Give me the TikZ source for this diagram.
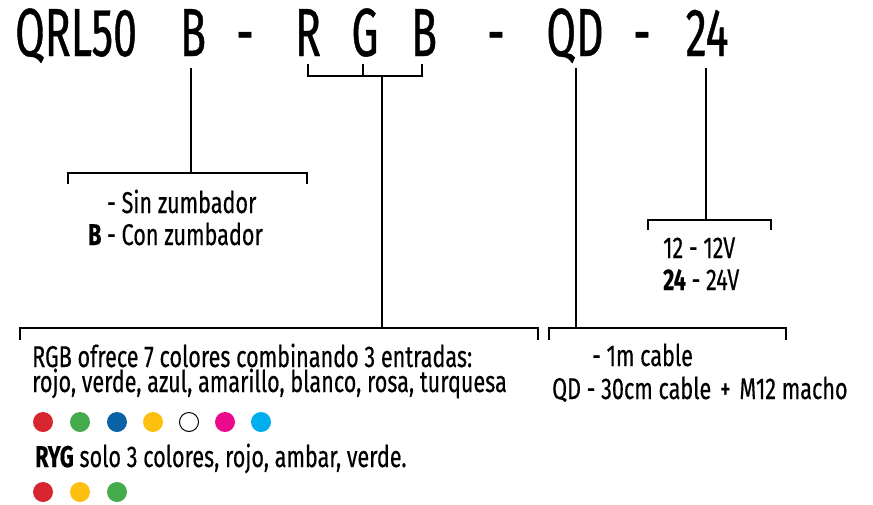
\documentclass[tikz,border=0pt]{standalone}
\usepackage{fontspec}
\setmainfont{Fira Sans}[FakeStretch=0.72, FakeBold=0.4]
\newfontfamily\codefont{Fira Sans}[FakeStretch=0.63, FakeBold=0.6]
\usetikzlibrary{positioning}

\definecolor{ledred}{HTML}{D7262F}
\definecolor{ledgreen}{HTML}{44AC4C}
\definecolor{ledblue}{HTML}{0A62A6}
\definecolor{ledyellow}{HTML}{FEC010}
\definecolor{ledpink}{HTML}{EB0A8C}
\definecolor{ledcyan}{HTML}{00AEEF}

\tikzset{
  code/.style={font=\codefont\fontsize{68}{68}\selectfont, anchor=base, inner sep=0pt},
  txt/.style={font=\fontsize{30}{32}\selectfont, anchor=base west, inner sep=0pt, align=left},
  wire/.style={line width=1.3pt},
  led/.style={circle, minimum size=20pt, inner sep=0pt},
}

\begin{document}
\begin{tikzpicture}[x=1pt, y=-1pt]
        \useasboundingbox (0,0) rectangle (873,504);

        % Code
        \node (qrl) [code, anchor=base west] at (15,56) {QRL50};
        \node (zb) [code] at (193,56) {B};
        \node (d1) [code] at (245,56) {-};
        \node (r) [code] at (308,56) {R};
        \node (g) [code] at (365,56) {G};
        \node (b) [code] at (424,56) {B};
        \node (d2) [code] at (496,56) {-};
        \node (qd) [code] at (575,56) {QD};
        \node (d3) [code] at (642,56) {-};
        \node (volt) [code] at (707,56) {24};

        % Bracket points
        \coordinate (zbtop) at (191,68);
        \coordinate (zbmid) at (191,173);
        \coordinate (zbl) at (68,184);
        \coordinate (zbr) at (307,184);
        \coordinate (rtop) at (308,64);
        \coordinate (gtop) at (363,64);
        \coordinate (btop) at (422,64);
        \coordinate (rgbmid) at (382,76);
        \coordinate (rgbbot) at (382,328);
        \coordinate (rgbl) at (20,340);
        \coordinate (rgbr) at (538,340);
        \coordinate (qdtop) at (576,68);
        \coordinate (qdbot) at (576,328);
        \coordinate (qdl) at (549,340);
        \coordinate (qdr) at (786,340);
        \coordinate (vtop) at (706,68);
        \coordinate (vmid) at (706,220);
        \coordinate (vl) at (648,230);
        \coordinate (vr) at (771,230);

        % Options (anchored on the last line)
        \node (zbtxt) [txt] at (107,245) {- Sin zumbador\\\llap{\textbf{B} }- Con zumbador};
        \node (rgbtxt) [txt, font=\fontsize{30}{25}\selectfont] at (32,392) {RGB ofrece 7 colores combinando 3 entradas:\\rojo, verde, azul, amarillo, blanco, rosa, turquesa};
        \node (rygtxt) [txt] at (35,467) {\textbf{RYG} solo 3 colores, rojo, ambar, verde.};
        \node (cab1) [txt] at (592,366) {- 1m cable};
        \node (cab2) [txt] at (552,399) {QD - 30cm cable \hspace{3pt}+\hspace{3pt} M12 macho};
        \node (volttxt) [txt] at (663,290) {12 - 12V\\\textbf{24} - 24V};

        % LEDs
        \node (l1) [led, fill=ledred] at (43,422) {};
        \node (l2) [led, fill=ledgreen] at (80,422) {};
        \node (l3) [led, fill=ledblue] at (117,422) {};
        \node (l4) [led, fill=ledyellow] at (153,422) {};
        \node (l5) [led, draw, line width=1pt, minimum size=19pt] at (189,422) {};
        \node (l6) [led, fill=ledpink] at (225,422) {};
        \node (l7) [led, fill=ledcyan] at (261,422) {};
        \node (k1) [led, fill=ledred] at (43,492) {};
        \node (k2) [led, fill=ledyellow] at (80,492) {};
        \node (k3) [led, fill=ledgreen] at (117,492) {};

        % Lines
        \draw[wire] (zbtop) -- (zbmid);
        \draw[wire] (zbl) |- (zbmid) -| (zbr);
        \draw[wire] (rtop) |- (rgbmid) -| (btop);
        \draw[wire] (gtop) -- (gtop |- rgbmid);
        \draw[wire] (rgbmid) -- (rgbbot);
        \draw[wire] (rgbl) |- (rgbbot) -| (rgbr);
        \draw[wire] (qdtop) -- (qdbot);
        \draw[wire] (qdl) |- (qdbot) -| (qdr);
        \draw[wire] (vtop) -- (vmid);
        \draw[wire] (vl) |- (vmid) -| (vr);
    \end{tikzpicture}
\end{document}
